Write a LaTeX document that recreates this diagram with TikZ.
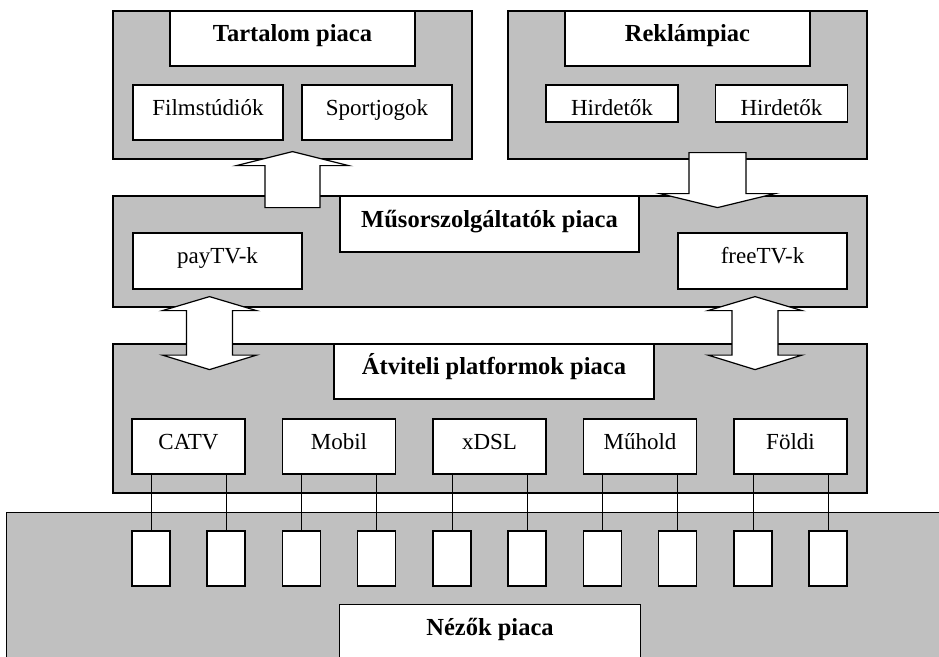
\documentclass[tikz,border=0pt]{standalone}
\usepackage{fontspec}
\setmainfont{Liberation Serif}
\usetikzlibrary{calc}
\definecolor{panelgray}{RGB}{192,192,192}

\begin{document}
\begin{tikzpicture}[
                x=1pt, y=-1pt,
                every node/.style={draw, line width=1.2pt, inner sep=2pt},
                panel/.style={fill=panelgray},
                titlebox/.style={fill=white, font=\fontsize{24.5}{28}\selectfont\bfseries,
                        text height=15pt, text depth=9pt},
                itembox/.style={fill=white, font=\fontsize{23}{27}\selectfont,
                        text height=14pt, text depth=8.5pt},
                recvbox/.style={fill=white, minimum width=38pt, minimum height=55pt},
                blockarrow/.style={draw, fill=white, line width=1.2pt, line join=miter},
                wire/.style={draw, line width=1pt}
            ]

            \useasboundingbox (0,0) rectangle (939,656);
            \clip (0,0) rectangle (939,656);

            % grey markets
            \node[panel, minimum width=359pt, minimum height=148pt] (tartalom) at (292.5,85) {};
            \node[panel, minimum width=359pt, minimum height=148pt] (reklam) at (687.5,85) {};
            \node[panel, minimum width=754pt, minimum height=111pt] (musor) at (490,251.5) {};
            \node[panel, minimum width=754pt, minimum height=149pt] (atvitel) at (490,418.5) {};
            \node[panel, minimum width=960pt, minimum height=180pt, anchor=north west] (nezok) at (6,512) {};

            % block arrows between the markets
            \draw[blockarrow] ($(tartalom.south)+(0,-8)$) -- ++(56,14) -- ++(-28.5,0) -- ++(0,42)
                -- ++(-55,0) -- ++(0,-42) -- ++(-28.5,0) -- cycle;
            \draw[blockarrow] ($(reklam.south)+(1.5,-7)$) -- ++(57,0) -- ++(0,41) -- ++(29,0)
                -- ++(-57.5,14) -- ++(-57.5,-14) -- ++(29,0) -- cycle;
            \foreach \dx in {-280.5,265} {
                \draw[blockarrow] ($(musor.south)+(\dx,-11)$) -- ++(47,14) -- ++(-24,0) -- ++(0,44.5)
                    -- ++(24,0) -- ++(-47,14.5) -- ++(-47,-14.5) -- ++(24,0) -- ++(0,-44.5)
                    -- ++(-24,0) -- cycle;
            }

            % content and advertising
            \node[titlebox, minimum width=245pt, minimum height=55pt] (tartalomtitle) at (292.5,38.5) {Tartalom piaca};
            \node[itembox, minimum width=150pt, minimum height=55pt] (film) at (208,112.5) {Filmstúdiók};
            \node[itembox, minimum width=150pt, minimum height=55pt] (sport) at (377,112.5) {Sportjogok};
            \node[titlebox, minimum width=245pt, minimum height=55pt] (reklamtitle) at (687.5,38.5) {Reklámpiac};
            \node[itembox, minimum width=132pt, minimum height=37pt, text height=24pt, text depth=1pt]
                (hirdeto1) at (612,103.5) {Hirdetők};
            \node[itembox, minimum width=132pt, minimum height=37pt, text height=24pt, text depth=1pt]
                (hirdeto2) at (781.5,103.5) {Hirdetők};

            % broadcasters
            \node[titlebox, minimum width=299pt, minimum height=56pt] (musortitle) at (489.5,224) {Műsorszolgáltatók piaca};
            \node[itembox, minimum width=169pt, minimum height=56pt] (paytv) at (217.5,261) {payTV-k};
            \node[itembox, minimum width=169pt, minimum height=56pt] (freetv) at (762.5,261) {freeTV-k};

            % platforms and viewers
            \node[titlebox, minimum width=320pt, minimum height=55pt] (atviteltitle) at (494,371.5) {Átviteli platformok piaca};
            \foreach \name [count=\i from 0] in {CATV,Mobil,xDSL,Műhold,Földi} {
                \node[itembox, minimum width=113pt, minimum height=55pt] (p\i) at (188.5+150.5*\i,446.5) {\name};
                \node[recvbox] (ra\i) at (151+150.5*\i,558.5) {};
                \node[recvbox] (rb\i) at (226+150.5*\i,558.5) {};
                \draw[wire] (p\i.south -| ra\i.north) -- (ra\i.north);
                \draw[wire] (p\i.south -| rb\i.north) -- (rb\i.north);
            }
            \node[titlebox, minimum width=301pt, anchor=north, text height=22pt, text depth=40pt, inner ysep=9pt]
                (nezoktitle) at (490,604) {Nézők piaca};

        \end{tikzpicture}
\end{document}
